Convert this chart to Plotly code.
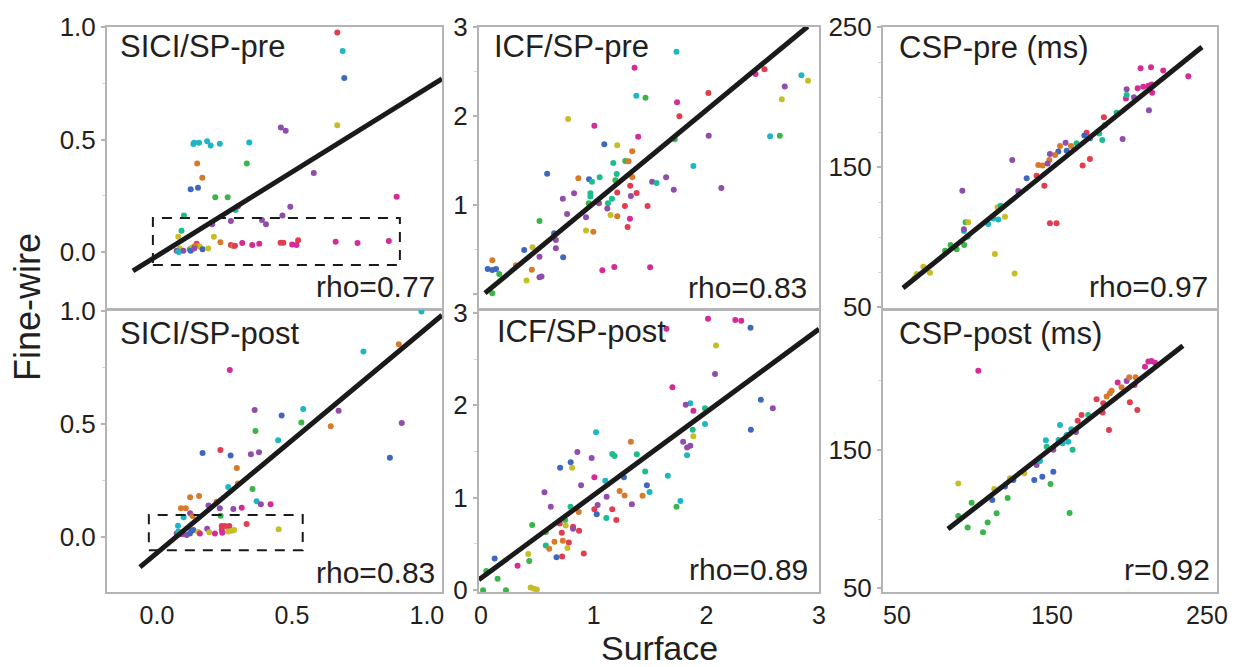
import plotly.graph_objects as go

W, H = 1244, 667          # target picture size
PAGE_OFF = 8              # default page (body) margin before the plot div
FIG_W, FIG_H = W - PAGE_OFF, H - PAGE_OFF
FONT = "Liberation Sans, Arial, Helvetica, sans-serif"
INK = "#231f20"
FRAME = "#b4b4b6"

# subject colour code -> colour
subject_colors = {"R": "#e13c50", "O": "#d97a2a", "Y": "#c6bd27", "G": "#39b54a",
                  "T": "#1cbc8d", "C": "#1db7c3", "B": "#3e68c0", "P": "#904dac",
                  "M": "#d52b96"}

# ---------------- SICI/SP-pre ----------------
sici_pre_x = [0.668, 0.688, 0.694, 0.668, 0.459, 0.477, 0.135, 0.138, 0.156, 0.186,
              0.199, 0.233, 0.342, 0.149, 0.333, 0.168, 0.581, 0.125, 0.152, 0.216,
              0.262, 0.888, 0.494, 0.291, 0.100, 0.465, 0.300, 0.274, 0.389, 0.404,
              0.205, 0.091, 0.079, 0.211, 0.235, 0.147, 0.147, 0.274, 0.283, 0.289,
              0.316, 0.353, 0.379, 0.458, 0.468, 0.501, 0.517, 0.523, 0.662, 0.743,
              0.859, 0.085, 0.073, 0.081, 0.098, 0.122, 0.132, 0.159, 0.169, 0.190,
              0.141, 0.079, 0.125, 0.138]
sici_pre_y = [0.976, 0.893, 0.773, 0.563, 0.553, 0.539, 0.480, 0.486, 0.486, 0.492,
              0.474, 0.481, 0.487, 0.394, 0.393, 0.330, 0.351, 0.279, 0.286, 0.243,
              0.243, 0.246, 0.201, 0.187, 0.163, 0.163, 0.204, 0.138, 0.142, 0.124,
              0.124, 0.095, 0.068, 0.068, 0.044, 0.037, 0.028, 0.031, 0.027, 0.028,
              0.040, 0.031, 0.037, 0.041, 0.041, 0.034, 0.031, 0.052, 0.046, 0.040,
              0.049, 0.016, 0.006, 0.000, 0.006, 0.012, 0.021, 0.024, 0.012, 0.016,
              0.027, 0.002, 0.006, 0.016]
sici_pre_subj = list("RCBYPPCCCC" "CCCOGOPBBG" "GMPTTPPPPP" "PTYYOROROR"
                     "MMMRRMMRMM" "MYPTPGYYBY" "OCBP")

# ---------------- ICF/SP-pre ----------------
icf_pre_x = [1.735, 1.363, 2.437, 2.516, 2.844, 2.903, 2.696, 1.378, 1.460, 2.018,
             1.740, 2.670, 1.761, 0.773, 1.006, 1.395, 2.021, 2.566, 2.652, 1.720,
             1.094, 1.209, 1.342, 1.174, 1.280, 1.310, 1.885, 0.587, 1.204, 1.342,
             0.864, 1.053, 0.959, 0.985, 1.192, 1.519, 1.558, 1.643, 1.324, 2.133,
             1.711, 0.826, 0.971, 0.971, 1.209, 1.381, 1.330, 0.726, 1.162, 0.956,
             1.047, 1.127, 1.277, 1.478, 1.121, 0.764, 1.150, 1.209, 0.932, 1.322,
             0.519, 1.301, 0.932, 0.997, 0.649, 0.664, 0.383, 0.457, 0.664, 0.519,
             0.729, 0.100, 0.310, 0.451, 0.059, 0.100, 0.133, 0.162, 1.077, 1.183,
             1.501, 0.404, 0.519, 0.537, 0.100]
icf_pre_y = [2.723, 2.543, 2.472, 2.524, 2.457, 2.397, 2.330, 2.228, 2.206, 2.258,
             2.154, 2.187, 1.996, 1.966, 1.891, 1.768, 1.779, 1.772, 1.779, 1.738,
             1.682, 1.670, 1.603, 1.472, 1.494, 1.491, 1.438, 1.352, 1.348, 1.315,
             1.300, 1.311, 1.288, 1.262, 1.277, 1.262, 1.247, 1.311, 1.217, 1.191,
             1.172, 1.131, 1.131, 1.094, 1.139, 1.135, 1.101, 1.071, 1.071, 1.019,
             1.019, 1.019, 0.989, 0.989, 0.959, 0.899, 0.888, 0.873, 0.861, 0.846,
             0.820, 0.753, 0.712, 0.700, 0.682, 0.607, 0.494, 0.524, 0.513, 0.419,
             0.412, 0.378, 0.322, 0.273, 0.280, 0.270, 0.280, 0.225, 0.266, 0.303,
             0.300, 0.150, 0.187, 0.195, 0.007]
icf_pre_subj = list("CMMRCYPCGR" "MYRYMMPCGG" "BYOTGOCBTO" "OTBTGPTPRP"
                    "PPTTRRPPTG" "PTRRPPYOPM" "GRYOBPBYPP" "BOOOBBBGMM" "MYPPG")

# ---------------- CSP-pre (ms) ----------------
csp_pre_x = [207.2, 213.9, 221.8, 238.0, 198.2, 205.3, 208.9, 212.2, 214.3, 214.7,
             197.7, 198.2, 202.9, 212.6, 191.7, 183.5, 184.2, 195.6, 182.5, 180.5,
             172.4, 170.9, 174.5, 165.9, 169.8, 174.5, 158.8, 155.2, 162.3, 154.1,
             159.5, 152.0, 148.7, 148.3, 141.2, 144.0, 147.2, 124.4, 140.1, 145.1,
             133.7, 128.3, 92.2, 148.7, 153.0, 114.9, 116.9, 119.7, 112.2, 115.4,
             108.9, 94.3, 96.0, 93.2, 93.2, 95.6, 93.4, 88.5, 84.6, 81.0,
             113.2, 125.9, 67.0, 62.7, 61.2, 71.3]
csp_pre_y = [220.5, 221.2, 219.0, 214.8, 205.5, 206.2, 207.4, 208.1, 209.0, 203.1,
             199.0, 201.4, 199.8, 190.5, 188.8, 185.5, 180.0, 170.0, 169.3, 174.0,
             174.5, 172.6, 170.5, 166.9, 151.0, 155.7, 167.4, 165.0, 165.0, 161.0,
             161.7, 158.6, 159.3, 155.0, 151.4, 151.0, 152.6, 155.0, 143.8, 136.7,
             141.9, 132.9, 133.1, 109.8, 109.8, 121.2, 122.4, 114.5, 113.3, 112.6,
             109.3, 110.5, 110.5, 104.3, 105.5, 100.2, 94.3, 91.2, 94.3, 90.2,
             87.9, 74.0, 78.8, 73.6, 70.5, 74.5]
csp_pre_subj = list("MMMMPMMMMM" "MTPPTRTPTT" "RBBTRRPOOB" "BOPOOOPPRR"
                    "BPPRRYTYCC" "CGYCPTGGGG" "YYYYYY")

# ---------------- SICI/SP-post ----------------
sici_post_x = [0.980, 0.896, 0.765, 0.270, 0.362, 0.462, 0.542, 0.673, 0.535, 0.644,
               0.907, 0.365, 0.449, 0.235, 0.169, 0.273, 0.348, 0.378, 0.863, 0.296,
               0.300, 0.264, 0.354, 0.123, 0.156, 0.369, 0.385, 0.421, 0.191, 0.221,
               0.233, 0.283, 0.314, 0.089, 0.107, 0.123, 0.099, 0.132, 0.236, 0.078,
               0.332, 0.240, 0.252, 0.268, 0.240, 0.268, 0.451, 0.264, 0.277, 0.286,
               0.186, 0.073, 0.094, 0.128, 0.135, 0.153, 0.194, 0.159, 0.215, 0.242,
               0.079, 0.110, 0.122]
sici_post_y = [0.997, 0.853, 0.820, 0.739, 0.562, 0.537, 0.566, 0.559, 0.507, 0.490,
               0.504, 0.469, 0.428, 0.385, 0.372, 0.361, 0.366, 0.375, 0.351, 0.305,
               0.237, 0.221, 0.212, 0.176, 0.181, 0.158, 0.145, 0.145, 0.140, 0.156,
               0.127, 0.124, 0.130, 0.127, 0.127, 0.105, 0.088, 0.093, 0.094, 0.050,
               0.058, 0.049, 0.049, 0.049, 0.031, 0.031, 0.034, 0.025, 0.028, 0.031,
               0.037, 0.016, 0.012, 0.027, 0.031, 0.022, 0.021, 0.016, 0.016, 0.019,
               0.024, 0.009, 0.016]
sici_post_subj = list("COCMPBCPGO" "PGCRBBPPBO" "OCGOOCPMPO" "PPMOOPCOGC"
                      "RRRRRRYYYY" "PPPBBYYMMM" "CPB")

# ---------------- ICF/SP-post ----------------
icf_post_x = [2.015, 2.257, 2.310, 1.646, 2.392, 2.086, 2.077, 1.699, 1.858, 1.817,
              1.885, 1.988, 2.484, 2.590, 2.395, 1.879, 1.988, 1.885, 1.021, 1.330,
              1.794, 1.829, 1.858, 1.829, 0.855, 0.982, 1.165, 1.186, 1.383, 0.796,
              0.702, 0.808, 1.457, 1.658, 1.006, 1.268, 1.103, 1.472, 0.888, 0.563,
              1.230, 1.274, 1.434, 1.496, 1.115, 1.770, 1.735, 0.619, 0.794, 1.035,
              1.339, 1.006, 1.165, 1.027, 0.867, 1.112, 1.201, 0.746, 0.699, 0.752,
              0.454, 0.817, 0.817, 0.870, 0.717, 0.575, 0.652, 0.726, 0.779, 0.575,
              0.605, 0.767, 0.419, 0.912, 0.720, 0.670, 0.121, 0.428, 0.324, 0.047,
              0.147, 0.018, 0.221, 0.440, 0.469, 0.496]
icf_post_y = [2.935, 2.921, 2.913, 2.827, 2.838, 2.646, 2.339, 2.195, 2.022, 2.004,
              1.939, 1.968, 2.058, 1.968, 1.736, 1.736, 1.798, 1.664, 1.708, 1.606,
              1.606, 1.542, 1.563, 1.458, 1.495, 1.430, 1.473, 1.451, 1.469, 1.383,
              1.325, 1.325, 1.282, 1.238, 1.220, 1.220, 1.184, 1.134, 1.134, 1.058,
              1.072, 1.025, 1.022, 1.061, 1.011, 0.964, 0.903, 0.903, 0.903, 0.921,
              0.928, 0.874, 0.874, 0.820, 0.845, 0.780, 0.758, 0.758, 0.722, 0.700,
              0.704, 0.686, 0.664, 0.643, 0.621, 0.628, 0.523, 0.534, 0.516, 0.484,
              0.448, 0.455, 0.390, 0.397, 0.365, 0.357, 0.343, 0.314, 0.264, 0.206,
              0.123, 0.000, 0.000, 0.029, 0.014, 0.007]
icf_post_subj = list("MMMMBYPMCP" "MTBPBTCYCO" "PPPCPPTTTB" "BYTCMBCBPP"
                     "OOOCPCGPTP" "PRRBOTRGRY" "GRPRRGOORT" "OYYRRBBGMG" "GGGYYY")

# ---------------- CSP-post (ms) ----------------
csp_post_x = [102.5, 212.2, 214.3, 210.0, 216.5, 198.2, 192.4, 199.9, 204.0, 203.3,
              194.9, 188.5, 187.4, 185.3, 178.8, 183.1, 200.3, 205.1, 182.7, 186.8,
              169.1, 166.6, 173.4, 155.2, 162.5, 159.5, 160.5, 163.3, 146.1, 165.5,
              150.9, 140.1, 142.3, 150.9, 143.8, 138.6, 149.1, 132.2, 125.1, 122.9,
              119.7, 112.8, 89.6, 111.5, 121.4, 98.2, 114.3, 89.6, 108.5, 95.6,
              105.5, 161.4, 146.6, 154.3, 156.9]
csp_post_y = [207.3, 213.9, 214.3, 210.2, 213.1, 199.9, 198.7, 202.5, 202.5, 197.0,
              195.3, 192.9, 191.0, 188.6, 186.6, 183.7, 184.5, 178.9, 177.0, 164.5,
              175.3, 171.2, 175.3, 168.1, 164.9, 160.8, 156.0, 150.2, 157.0, 163.0,
              150.2, 139.2, 142.0, 134.3, 130.7, 128.3, 125.4, 133.1, 128.3, 129.5,
              123.5, 121.8, 125.7, 113.9, 115.3, 111.9, 104.2, 102.3, 97.5, 93.9,
              90.5, 104.5, 152.4, 157.2, 154.8]
csp_post_subj = list("MMMMMPMOOM" "OOOORRRRRR" "RRTCCCCTCP" "PPCBBBGYBY"
                     "BYYBGGGGGG" "GGTCC")

# fitted lines (end points)
sici_pre_fit_x, sici_pre_fit_y = [-0.089, 1.056], [-0.084, 0.770]
icf_pre_fit_x, icf_pre_fit_y = [0.035, 2.900], [0.010, 3.006]
csp_pre_fit_x, csp_pre_fit_y = [53.9, 246.8], [63.6, 235.7]
sici_post_fit_x, sici_post_fit_y = [-0.063, 1.056], [-0.133, 0.981]
icf_post_fit_x, icf_post_fit_y = [-0.020, 3.000], [0.112, 2.824]
csp_post_fit_x, csp_post_fit_y = [82.9, 234.5], [92.8, 225.4]

# dashed boxes (data units)
sici_pre_box = [-0.015, 0.900, -0.058, 0.151]
sici_post_box = [-0.030, 0.540, -0.058, 0.097]

panel_titles = ["SICI/SP-pre", "ICF/SP-pre", "CSP-pre (ms)",
                "SICI/SP-post", "ICF/SP-post", "CSP-post (ms)"]
panel_stats = ["rho=0.77", "rho=0.83", "rho=0.97", "rho=0.83", "rho=0.89", "r=0.92"]

# ---------------- layout geometry (target pixels) ----------------
cols_px = [(107, 442), (479, 819), (883, 1217)]
rows_px = [(27, 309), (310, 592)]


def px_x(px):
    return (px - PAGE_OFF) / FIG_W


def px_y(py):
    return 1 - (py - PAGE_OFF) / FIG_H


panels = [
    dict(x=sici_pre_x, y=sici_pre_y, s=sici_pre_subj, fx=sici_pre_fit_x, fy=sici_pre_fit_y,
         col=0, row=0, xr=[-0.185, 1.056], yr=[-0.253, 1.0],
         yt=[0, 0.5, 1.0], ytt=["0.0", "0.5", "1.0"], ym=[0.25, 0.75],
         xt=[0, 0.5, 1.0], xtt=["0.0", "0.5", "1.0"], box=sici_pre_box,
         title_xy=(118, 46), stat_xy=(437, 286)),
    dict(x=icf_pre_x, y=icf_pre_y, s=icf_pre_subj, fx=icf_pre_fit_x, fy=icf_pre_fit_y,
         col=1, row=0, xr=[-0.018, 3.0], yr=[-0.169, 3.0],
         yt=[0, 1, 2, 3], ytt=["", "1", "2", "3"], ym=[0.5, 1.5, 2.5],
         xt=[0, 1, 2, 3], xtt=["0", "1", "2", "3"], box=None,
         title_xy=(492, 46), stat_xy=(809, 287)),
    dict(x=csp_pre_x, y=csp_pre_y, s=csp_pre_subj, fx=csp_pre_fit_x, fy=csp_pre_fit_y,
         col=2, row=0, xr=[41.0, 256.5], yr=[48.6, 250.0],
         yt=[50, 150, 250], ytt=["50", "150", "250"], ym=[75, 100, 125, 175, 200, 225],
         xt=[50, 150, 250], xtt=["50", "150", "250"], box=None,
         title_xy=(897, 47), stat_xy=(1210, 286)),
    dict(x=sici_post_x, y=sici_post_y, s=sici_post_subj, fx=sici_post_fit_x, fy=sici_post_fit_y,
         col=0, row=1, xr=[-0.185, 1.056], yr=[-0.243, 1.004],
         yt=[0, 0.5, 1.0], ytt=["0.0", "0.5", "1.0"], ym=[0.25, 0.75],
         xt=[0, 0.5, 1.0], xtt=["0.0", "0.5", "1.0"], box=sici_post_box,
         title_xy=(118, 333), stat_xy=(437, 572)),
    dict(x=icf_post_x, y=icf_post_y, s=icf_post_subj, fx=icf_post_fit_x, fy=icf_post_fit_y,
         col=1, row=1, xr=[-0.018, 3.0], yr=[-0.02, 3.03],
         yt=[0, 1, 2, 3], ytt=["0", "1", "2", "3"], ym=[0.5, 1.5, 2.5],
         xt=[0, 1, 2, 3], xtt=["0", "1", "2", "3"], box=None,
         title_xy=(495, 331), stat_xy=(810, 569)),
    dict(x=csp_post_x, y=csp_post_y, s=csp_post_subj, fx=csp_post_fit_x, fy=csp_post_fit_y,
         col=2, row=1, xr=[41.0, 256.5], yr=[47.3, 251.2],
         yt=[50, 150], ytt=["50", "150"], ym=[100, 200],
         xt=[50, 150, 250], xtt=["50", "150", "250"], box=None,
         title_xy=(897, 333), stat_xy=(1212, 569)),
]

fig = go.Figure()
layout = dict(width=FIG_W, height=FIG_H, autosize=False,
              margin=dict(l=0, r=0, t=0, b=0, pad=0, autoexpand=False),
              paper_bgcolor="white", plot_bgcolor="white", showlegend=False,
              font=dict(family=FONT, color=INK))
shapes = []
annotations = []

for i, p in enumerate(panels):
    k = i + 1
    xid = "x" if k == 1 else f"x{k}"
    yid = "y" if k == 1 else f"y{k}"
    xkey = "xaxis" if k == 1 else f"xaxis{k}"
    ykey = "yaxis" if k == 1 else f"yaxis{k}"
    l, r = cols_px[p["col"]]
    t, b = rows_px[p["row"]]
    bottom = p["row"] == 1

    fig.add_trace(go.Scatter(
        x=p["x"], y=p["y"], mode="markers", xaxis=xid, yaxis=yid,
        marker=dict(size=6, color=[subject_colors[s] for s in p["s"]], line=dict(width=0)),
        hoverinfo="skip"))
    fig.add_trace(go.Scatter(
        x=p["fx"], y=p["fy"], mode="lines", xaxis=xid, yaxis=yid,
        line=dict(color="#1a1a1a", width=5), hoverinfo="skip"))

    layout[xkey] = dict(
        domain=[px_x(l), px_x(r)], range=p["xr"], anchor=yid, automargin=False,
        showline=True, mirror=True, linecolor=FRAME, linewidth=2,
        showgrid=False, zeroline=False, ticks="",
        showticklabels=bottom, tickmode="array", tickvals=p["xt"], ticktext=p["xtt"],
        tickfont=dict(size=25, color=INK, family=FONT), fixedrange=True)
    layout[ykey] = dict(
        domain=[px_y(b), px_y(t)], range=p["yr"], anchor=xid, automargin=False,
        showline=True, mirror=True, linecolor=FRAME, linewidth=2,
        showgrid=False, zeroline=False,
        ticks="outside", ticklen=4, tickwidth=1.5, tickcolor=FRAME,
        tickmode="array", tickvals=p["yt"], ticktext=p["ytt"],
        minor=dict(tickmode="array", tickvals=p["ym"], ticks="outside", ticklen=3,
                   tickwidth=1, tickcolor="#d4d4d6"),
        tickfont=dict(size=26, color=INK, family=FONT), fixedrange=True)

    if p["box"] is not None:
        x0, x1, y0, y1 = p["box"]
        shapes.append(dict(type="rect", xref=xid, yref=yid, x0=x0, x1=x1, y0=y0, y1=y1,
                           line=dict(color="#1a1a1a", width=2, dash="10px,8px"),
                           fillcolor="rgba(0,0,0,0)", layer="above"))

    tx, ty = p["title_xy"]
    annotations.append(dict(text=panel_titles[i], xref="paper", yref="paper",
                            x=px_x(tx), y=px_y(ty), xanchor="left", yanchor="middle",
                            showarrow=False, font=dict(size=31, color=INK, family=FONT)))
    sx, sy = p["stat_xy"]
    annotations.append(dict(text=panel_stats[i], xref="paper", yref="paper",
                            x=px_x(sx), y=px_y(sy), xanchor="right", yanchor="middle",
                            showarrow=False, font=dict(size=30, color=INK, family=FONT)))

annotations.append(dict(text="Fine-wire", xref="paper", yref="paper", x=px_x(28), y=px_y(307),
                        xanchor="center", yanchor="middle", textangle=-90, showarrow=False,
                        font=dict(size=36, color=INK, family=FONT)))
annotations.append(dict(text="Surface", xref="paper", yref="paper", x=px_x(660), y=px_y(647.5),
                        xanchor="center", yanchor="middle", showarrow=False,
                        font=dict(size=34, color=INK, family=FONT)))

layout["shapes"] = shapes
layout["annotations"] = annotations
fig.update_layout(**layout)
fig.write_html("out.html")
